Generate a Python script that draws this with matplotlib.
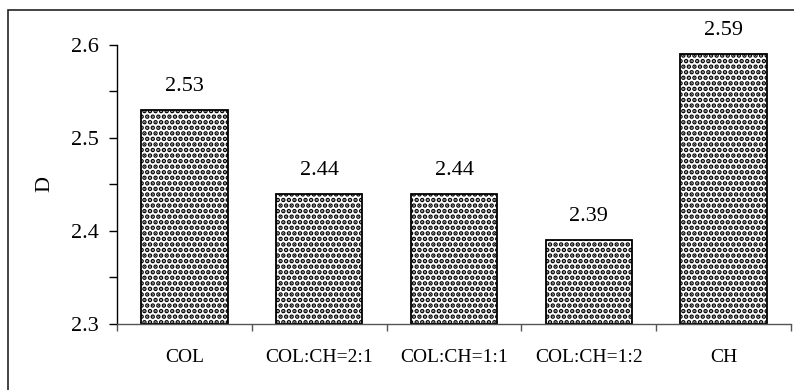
import matplotlib.pyplot as plt
from matplotlib.patches import Rectangle
from matplotlib.ticker import MultipleLocator, FixedLocator

categories = ["COL", "COL:CH=2:1", "COL:CH=1:1", "COL:CH=1:2", "CH"]
values = [2.53, 2.44, 2.44, 2.39, 2.59]
labels = ["2.53", "2.44", "2.44", "2.39", "2.59"]

plt.rcParams['font.family'] = ['Liberation Serif', 'DejaVu Serif']
plt.rcParams['hatch.linewidth'] = 2.3
plt.rcParams['hatch.color'] = 'black'

fig = plt.figure(figsize=(7.94, 3.9), dpi=100)
ax = fig.add_axes([117/794, 66/390, 674/794, 279/390])

x = list(range(len(categories)))
base = 2.3
bars = ax.bar(x, [v - base for v in values], bottom=base, width=0.64,
              color='white', edgecolor='black', linewidth=1.3, hatch='...')

for xi, v, lab in zip(x, values, labels):
    ax.annotate(lab, (xi, v), xytext=(0, 10), textcoords='offset points',
                ha='center', va='bottom', fontsize=16)

ax.set_xlim(-0.5, 4.5)
ax.set_ylim(2.3, 2.6)
ax.yaxis.set_minor_locator(MultipleLocator(0.05))
ax.set_yticks([2.3, 2.4, 2.5, 2.6])
ax.set_yticklabels(["2.3", "2.4", "2.5", "2.6"])
ax.tick_params(axis='y', which='both', length=6, width=1, pad=7, labelsize=16)

ax.set_xticks(x)
ax.set_xticklabels(categories)
ax.xaxis.set_minor_locator(FixedLocator([i - 0.5 for i in range(len(categories) + 1)]))
ax.tick_params(axis='x', which='major', length=0, pad=18, labelsize=14)
ax.tick_params(axis='x', which='minor', length=5, width=1, color='#555555')

ax.spines['top'].set_visible(False)
ax.spines['right'].set_visible(False)
ax.spines['left'].set_linewidth(1)
ax.spines['bottom'].set_linewidth(1)
ax.spines['bottom'].set_color('#555555')

ax.set_ylabel("D", fontsize=16, labelpad=12)

# outer frame, cut off at right and bottom like the reference
fig.patches.append(Rectangle((8/794, -0.1), 1.2, 0.1 + 380/390, transform=fig.transFigure,
                             fill=False, edgecolor='#222222', linewidth=1.2))

fig.savefig("out.png", dpi=100)
